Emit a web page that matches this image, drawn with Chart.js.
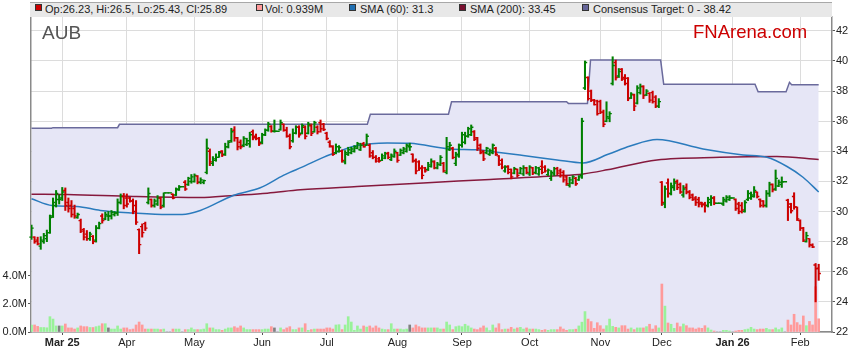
<!DOCTYPE html>
<html><head><meta charset="utf-8">
<script src="https://cdn.jsdelivr.net/npm/chart.js@4.4.1/dist/chart.umd.min.js"></script>
<style>
html,body{margin:0;padding:0;background:#fff;overflow:hidden}
#wrap{position:relative;width:859px;height:363px;font-family:"Liberation Sans",Arial,Helvetica,sans-serif}
#c{position:absolute;left:0;top:0}
#band{position:absolute;left:30px;top:2px;width:802px;height:15px;background:#e8e8e8;border-top:1px solid #a8a8a8;box-sizing:border-box}
.li{position:absolute;top:3px;font-size:11px;line-height:13px;color:#222;white-space:nowrap}
.bx{position:absolute;top:4px;width:5px;height:5px;border:1px solid #333}
#sym{position:absolute;left:42px;top:23px;font-size:19px;line-height:19px;color:#555}
#brand{position:absolute;left:693px;top:23px;font-size:18.5px;line-height:18px;color:#cc0000}
</style></head>
<body><div id="wrap"><canvas id="c" width="859" height="363"></canvas>
<div id="band"></div>
<div class="bx" style="left:35px;background:#cc0000"></div><div class="li" style="left:45px">Op:26.23, Hi:26.5, Lo:25.43, Cl:25.89</div>
<div class="bx" style="left:256px;background:#ff9999"></div><div class="li" style="left:265px">Vol: 0.939M</div>
<div class="bx" style="left:349px;background:#1f6fb2"></div><div class="li" style="left:360px">SMA (60): 31.3</div>
<div class="bx" style="left:459px;background:#7a1030"></div><div class="li" style="left:470px">SMA (200): 33.45</div>
<div class="bx" style="left:582px;background:#66669a"></div><div class="li" style="left:593px">Consensus Target: 0 - 38.42</div>
<div id="sym">AUB</div>
<div id="brand">FNArena.com</div>
</div>
<script>
// trading-day index 0 = 17 Feb 2025 (weekdays; holidays shown flat with zero volume)
const monthLabels = ['Mar 25','Apr','May','Jun','Jul','Aug','Sep','Oct','Nov','Dec','Jan 26','Feb'];
const monthIdx    = [10,31,53,75,96,119,140,162,185,205,228,250];
const priceTicks  = [22,24,26,28,30,32,34,36,38,40,42];
const volTicks    = [0,2,4];

const open = [
28.3,28.3,28.1,27.7,28.0,28.2,28.6,29.7,30.4,30.8,
30.9,31.4,30.6,30.4,30.2,29.6,29.4,28.8,28.5,28.2,
28.35,28.1,28.9,29.7,29.5,29.7,29.7,29.8,29.9,30.6,
31.0,30.9,30.9,30.7,30.4,28.8,29.0,29.2,30.6,30.8,
30.4,30.5,30.9,30.4,31.24,31.24,31.15,31.1,31.45,31.65,
31.95,31.8,32.0,32.0,32.35,31.95,31.95,32.6,34.0,33.2,
33.4,33.6,34.0,33.8,34.3,34.7,35.4,34.9,34.6,34.4,
34.45,34.5,35.3,35.0,34.85,34.6,35.1,35.4,35.65,35.33,
35.33,35.45,35.8,35.4,35.0,34.7,35.2,35.6,35.2,35.6,
35.2,35.7,35.3,35.6,35.9,35.8,35.2,34.6,34.3,33.9,
34.0,34.0,33.3,33.8,33.9,34.0,34.2,34.1,34.5,34.4,
34.4,33.9,33.6,33.5,33.4,33.55,33.85,33.45,33.65,33.9,
33.75,33.9,34.0,34.3,33.8,33.4,33.3,32.9,32.9,32.8,
33.0,33.3,32.9,33.1,33.2,32.6,34.1,34.2,33.2,33.7,
34.4,34.6,35.0,35.1,35.3,34.9,34.4,34.0,33.9,33.8,
33.9,34.2,33.7,33.4,32.7,33.0,32.8,32.55,32.8,32.55,
32.5,32.9,32.5,32.9,32.6,32.5,33.0,32.95,32.45,32.2,
32.5,32.85,32.7,32.6,32.3,31.75,31.9,32.2,32.1,32.4,
38.2,38.9,38.0,37.4,37.35,37.3,36.6,36.0,36.2,38.5,
39.9,39.0,39.45,38.9,38.85,37.55,37.75,37.2,37.9,38.3,
37.75,37.85,37.9,37.6,37.0,31.95,30.5,31.9,31.2,31.6,
32.0,31.8,31.1,31.6,31.3,31.1,30.9,30.8,30.6,30.5,
30.4,30.6,30.9,30.55,30.55,30.5,30.7,30.8,30.9,30.8,
30.5,30.4,30.0,30.8,30.9,31.0,31.3,30.8,30.7,30.4,
31.2,31.8,31.5,31.7,31.8,31.98,30.75,30.5,31.0,30.3,
29.4,28.9,28.0,28.2,27.75,26.45,26.23];
const high = [
29.1,28.33,28.3,28.33,28.55,28.77,29.77,30.9,31.4,31.1,
31.6,31.57,30.9,30.73,30.43,29.9,29.5,28.88,28.74,28.63,
28.41,29.07,29.3,29.85,29.96,30.0,30.07,30.0,30.84,31.17,
31.2,31.17,30.95,30.84,30.73,28.85,29.18,29.3,31.57,30.84,
30.84,31.06,30.95,31.24,31.24,31.24,31.17,31.57,31.73,31.65,
32.06,32.28,32.46,32.5,32.39,32.24,32.1,34.82,34.16,33.65,
33.83,34.0,34.05,34.54,34.71,35.53,35.64,34.93,34.76,34.98,
34.87,35.27,35.42,35.15,34.93,35.2,35.49,35.93,35.71,36.08,
35.33,36.08,35.82,35.6,35.15,35.49,35.7,35.7,35.82,35.7,
35.93,35.82,36.0,35.7,36.08,35.86,35.27,34.71,34.38,34.49,
34.38,34.09,34.05,34.27,34.27,34.38,34.6,34.54,34.6,35.15,
34.49,34.05,33.72,33.6,33.83,33.94,33.94,33.83,34.16,33.94,
34.16,34.27,34.49,34.54,33.83,33.5,33.38,33.05,32.94,33.27,
33.5,33.38,33.27,33.72,33.27,34.93,34.6,34.27,33.94,34.49,
35.27,35.27,35.6,35.75,35.38,34.93,34.49,34.05,34.27,34.16,
34.49,34.27,33.72,33.5,33.05,33.05,32.83,32.94,32.83,32.94,
33.05,32.94,33.05,32.94,33.0,32.94,33.38,33.05,32.83,32.72,
32.94,32.94,32.83,32.72,32.39,32.28,32.39,32.28,32.39,36.2,
40.0,38.95,38.07,37.45,37.4,37.4,36.74,37.29,36.63,40.28,
40.06,39.5,39.5,39.1,38.9,37.9,37.8,38.36,38.47,38.36,
38.1,37.9,38.0,37.7,37.5,32.0,31.7,32.17,31.9,32.17,
32.1,31.9,31.73,31.84,31.4,31.17,31.0,30.95,30.62,30.62,
30.95,31.06,31.0,30.55,30.55,30.95,31.06,31.06,30.9,30.84,
30.62,30.6,30.73,31.4,31.3,31.66,31.3,30.84,30.73,31.4,
31.95,31.84,32.76,32.1,32.3,31.98,30.82,30.55,31.25,30.3,
29.45,28.95,28.63,28.2,27.86,26.55,26.5];
const low = [
28.15,27.89,27.78,27.49,27.89,28.0,28.55,29.6,30.3,30.5,
30.73,30.07,29.96,29.63,29.55,29.55,28.6,28.11,28.08,28.08,
27.86,27.97,28.85,29.23,29.45,29.4,29.5,29.7,29.74,30.5,
30.18,30.29,30.62,29.85,29.14,27.2,28.3,28.74,30.5,30.29,
30.29,30.4,30.18,30.29,31.24,31.24,30.84,31.06,31.4,31.65,
31.4,31.73,31.88,31.95,31.84,31.84,31.84,32.5,33.05,33.05,
33.34,33.6,33.65,33.72,34.22,34.6,34.67,34.09,34.16,34.3,
34.38,34.27,34.76,34.76,34.38,34.49,35.04,35.33,35.27,35.27,
35.33,35.4,35.33,34.93,34.16,34.6,35.15,34.93,35.15,34.82,
35.15,35.04,35.27,35.15,35.27,35.37,34.76,34.27,33.72,33.83,
33.94,33.27,33.16,33.72,33.83,33.94,34.16,34.05,34.27,34.38,
33.6,33.5,33.27,33.27,33.38,33.5,33.5,33.38,33.6,33.27,
33.72,33.83,33.94,34.05,33.27,32.5,32.72,32.17,32.61,32.72,
32.94,32.83,32.83,33.05,32.61,32.5,34.05,33.5,33.05,33.6,
34.27,34.49,34.93,35.04,34.71,34.05,33.83,33.38,33.83,33.72,
33.83,33.72,33.05,32.83,32.61,32.5,32.17,32.5,32.28,32.5,
32.39,32.5,32.39,32.45,32.5,32.4,32.5,32.61,32.39,32.06,
32.39,32.45,32.28,31.95,31.73,31.62,31.84,31.73,32.06,32.2,
38.1,37.4,37.3,37.07,36.4,36.5,35.63,35.96,35.96,38.4,
38.73,38.9,38.7,38.4,37.36,37.5,36.7,37.14,37.8,37.5,
37.7,37.25,37.2,36.9,36.9,30.4,30.25,30.95,31.1,31.4,
31.45,31.2,30.95,31.17,30.84,30.73,30.4,30.3,30.3,29.96,
30.3,30.4,30.45,30.55,30.55,30.4,30.62,30.73,30.9,30.07,
29.85,29.9,29.96,30.73,30.8,30.95,30.9,30.29,30.29,30.29,
31.0,31.3,31.4,31.65,31.6,31.98,29.4,29.9,30.15,29.4,
28.74,28.0,27.97,27.64,27.6,24.0,25.43];
const close = [
28.9,28.0,27.85,28.1,28.4,28.6,29.6,30.6,31.2,30.8,
31.3,30.4,30.2,29.8,29.7,29.8,28.7,28.3,28.2,28.5,
28.0,28.9,29.2,29.4,29.8,29.7,29.95,29.9,30.6,31.0,
30.4,30.5,30.7,30.0,29.3,27.8,28.6,28.9,31.2,30.4,
30.7,30.9,30.3,31.24,31.24,31.24,30.9,31.5,31.65,31.65,
31.5,32.2,32.3,32.4,31.95,32.1,32.05,34.2,33.3,33.5,
33.6,33.9,33.75,34.3,34.6,35.3,34.9,34.3,34.3,34.85,
34.7,35.1,34.9,34.85,34.5,35.1,35.4,35.8,35.35,35.33,
35.33,35.9,35.4,35.0,34.3,35.2,35.6,35.1,35.7,35.0,
35.8,35.2,35.9,35.3,35.5,35.45,34.85,34.35,33.8,34.3,
34.25,33.4,33.9,34.1,34.15,34.3,34.5,34.4,34.3,35.0,
33.7,33.6,33.35,33.35,33.7,33.85,33.6,33.75,34.0,33.4,
34.05,34.15,34.4,34.3,33.35,32.7,32.85,32.4,32.7,33.1,
33.35,32.9,33.15,33.6,32.7,34.3,34.4,33.6,33.8,34.4,
35.1,35.0,35.5,35.6,34.8,34.2,33.9,33.5,34.2,34.05,
34.4,33.8,33.15,32.95,32.95,32.6,32.3,32.85,32.4,32.85,
32.9,32.6,32.95,32.55,32.9,32.8,32.6,32.7,32.75,32.6,
32.85,32.55,32.4,32.1,31.85,32.1,32.3,31.85,32.3,36.0,
39.9,37.5,37.4,37.1,36.5,36.6,35.8,36.3,36.5,39.7,
38.9,39.3,38.8,38.5,37.5,37.8,37.0,38.2,38.3,37.7,
38.0,37.4,37.3,37.0,37.3,30.6,31.5,31.2,31.7,31.9,
31.6,31.3,31.5,31.3,30.95,30.8,30.6,30.5,30.45,30.4,
30.8,30.9,30.55,30.55,30.55,30.8,30.95,30.9,30.9,30.2,
30.0,30.1,30.6,31.2,31.1,31.4,31.0,30.4,30.4,31.2,
31.8,31.45,32.2,31.95,31.98,31.98,30.3,30.05,30.3,29.5,
28.9,28.1,28.4,27.8,27.65,26.2,25.89];
const volumeM = [
0.5,0.5,0.4,0.32,0.32,0.3,1.09,0.92,0.43,0.43,
0.43,0.57,0.29,0.29,0.21,0.29,0.43,0.38,0.38,0.32,
0.32,0.38,0.43,0.59,0.59,0.29,0.21,0.21,0.43,0.21,
0.29,0.29,0.17,0.21,0.5,0.71,0.5,0.21,0.21,0.21,
0.21,0.21,0.17,0.21,0,0,0.21,0.21,0.21,0,
0.17,0.17,0.29,0.17,0.17,0.17,0.21,0.59,0.29,0.29,
0.17,0.17,0.12,0.21,0.29,0.29,0.38,0.29,0.43,0.29,
0.17,0.17,0.17,0.17,0.17,0.17,0.21,0.21,0.38,0.29,
0,0.29,0.17,0.29,0.38,0.17,0.17,0.29,0.29,0.59,
0.12,0.17,0.21,0.21,0.21,0.21,0.29,0.29,0.21,0.5,
0.52,0.17,0.5,1.09,0.71,0.12,0.43,0.21,0.43,0.35,
0.43,0.29,0.43,0.29,0.21,0.17,0.17,0.59,0.21,0.21,
0.21,0.17,0.21,0.5,0.29,0.5,0.38,0.29,0.29,0.29,
0.29,0.29,0.29,0.21,0.21,0.71,0.5,0.17,0.38,0.43,
0.38,0.55,0.43,0.29,0.21,0.17,0.29,0.43,0.29,0.1,
0.5,0.29,0.59,0.17,0.21,0.21,0.33,0.21,0.29,0.33,
0.21,0.29,0.21,0.21,0.21,0.17,0.12,0.17,0.12,0.17,
0.17,0.17,0.36,0.21,0.12,0.17,0.17,0.2,0.43,0.7,
1.45,0.92,0.74,0.26,0.66,0.45,0.21,0.45,0.92,0.4,
0.33,0.29,0.45,0.45,0.21,0.29,0.17,0.29,0.29,0.29,
0.38,0.55,0.21,0.45,0.29,3.41,1.84,0.64,0.55,0.26,
0.64,0.38,0.57,0.45,0.29,0.29,0.21,0.29,0.26,0.45,
0.29,0.14,0.07,0,0,0.12,0.12,0.07,0,0.07,
0.12,0.12,0.17,0.21,0.33,0.21,0.17,0.21,0.21,0.26,
0.17,0.17,0.29,0.17,0.29,0,0.85,0.5,1.26,0.67,
0.5,1.14,0.45,0.75,0.5,3.22,0.939];

const sma60Idx = [0,6.7,14.8,22.4,33.1,44.2,49,54.9,65.6,74.4,81.9,84,88,94.9,98.1,105.9,115.7,123.1,136.2,144.9,151.4,159.9,170.9,179.4,187.5,194.7,203.4,218.4,231.4,239.2,245.7,250.9,256];
const sma60Val = [30.85,30.4,30.34,30.07,29.9,29.8,29.8,30.07,31.07,31.58,32.4,32.6,32.95,33.6,33.85,34.38,34.56,34.53,34.16,34.1,33.94,33.72,33.43,33.23,33.8,34.35,34.78,34.16,33.76,33.6,32.99,32.28,31.3];
const sma200Idx = [0,11.7,33,54.9,65.6,76.7,87.4,105.9,127.4,149.1,170.9,179.4,187.2,203.4,223.9,242.4,256];
const sma200Val = [31.15,31.13,31.0,30.93,31.07,31.22,31.44,31.66,31.9,32.13,32.37,32.5,32.77,33.43,33.6,33.65,33.45];
const targetIdx = [0,6.5,7,28,28.6,109.2,110.2,135.6,136.6,174,174.6,180.8,181.8,204.6,205.6,235.3,236.3,245.4,246.5,247.2,256];
const targetVal = [35.53,35.53,35.57,35.57,35.79,35.79,36.46,36.46,37.29,37.29,37.18,37.18,40.06,40.06,38.45,38.45,37.96,37.96,38.58,38.42,38.42];

const UP = '#008000', DOWN = '#cc0000';
const VUP = '#99f299', VDOWN = '#ff9a9a', VFLAT = '#808080';
const FONT = '"Liberation Sans", Arial, sans-serif';

const n = close.length;
const barColor = close.map((c,i)=> c >= open[i] ? UP : DOWN);
const volColor = close.map((c,i)=> c > open[i] ? VUP : (c < open[i] ? VDOWN : VFLAT));
const rangeData = close.map((c,i)=>({x:i, y:[low[i], high[i]]}));
const volData = volumeM.map((v,i)=>({x:i, y:v}));
const pts = (xs, ys) => xs.map((x,i)=>({x, y:ys[i]}));

const ohlcTicks = {
  id:'ohlcTicks',
  afterDatasetsDraw(chart){
    const xs = chart.scales.x, ys = chart.scales.y, ctx = chart.ctx;
    ctx.save();
    ctx.lineWidth = 1.4;
    for(let i=0;i<n;i++){
      const x = xs.getPixelForValue(i);
      const yo = ys.getPixelForValue(open[i]);
      const yc = ys.getPixelForValue(close[i]);
      ctx.strokeStyle = barColor[i];
      ctx.beginPath();
      ctx.moveTo(x-2.2, yo); ctx.lineTo(x, yo);
      ctx.moveTo(x, yc); ctx.lineTo(x+2.2, yc);
      ctx.stroke();
    }
    ctx.restore();
  }
};

new Chart(document.getElementById('c'), {
  type:'bar',
  data:{ datasets:[
    { type:'bar', label:'OHLC', data:rangeData, yAxisID:'y', backgroundColor:barColor, borderWidth:0, barThickness:1.4, grouped:false, order:1 },
    { type:'line', label:'SMA (60)', data:pts(sma60Idx,sma60Val), yAxisID:'y', borderColor:'#2b7bbd', borderWidth:1.5, pointRadius:0, cubicInterpolationMode:'monotone', fill:false, order:2 },
    { type:'line', label:'SMA (200)', data:pts(sma200Idx,sma200Val), yAxisID:'y', borderColor:'#86193d', borderWidth:1.5, pointRadius:0, cubicInterpolationMode:'monotone', fill:false, order:3 },
    { type:'bar', label:'Vol', data:volData, yAxisID:'yv', backgroundColor:volColor, borderWidth:0, barThickness:2, grouped:false, order:4 },
    { type:'line', label:'Consensus Target', data:pts(targetIdx,targetVal), yAxisID:'y', borderColor:'#6a6a9c', borderWidth:1.5, pointRadius:0, tension:0, fill:'start', backgroundColor:'#e6e6f6', order:5 }
  ]},
  options:{
    responsive:false, animation:false, devicePixelRatio:1,
    layout:{padding:{top:17,left:0,right:0,bottom:0}},
    plugins:{legend:{display:false}, tooltip:{enabled:false}},
    scales:{
      x:{ type:'linear', min:-0.163, max:260.33, offset:false,
          afterBuildTicks:s=>{ s.ticks = monthIdx.map(v=>({value:v})); },
          afterFit:s=>{ s.height = 31; },
          ticks:{ autoSkip:false, maxRotation:0, minRotation:0, padding:1, color:'#222',
                  callback:(v,i)=>monthLabels[i],
                  font:(c)=>({family:FONT, size:11, weight:(c.index===0||c.index===10)?'bold':'normal'}) },
          grid:{ color:'#dcdcdc', lineWidth:1, tickColor:'#555', tickLength:3, offset:false },
          border:{ color:'#8a8a8a', width:1.5 } },
      y:{ position:'right', min:22, max:42.92,
          afterBuildTicks:s=>{ s.ticks = priceTicks.map(v=>({value:v})); },
          afterFit:s=>{ s.width = 27; },
          ticks:{ padding:1, color:'#222', font:{family:FONT, size:11}, callback:v=>String(v) },
          grid:{ color:'#dcdcdc', lineWidth:1, tickColor:'#555', tickLength:3 },
          border:{ color:'#8a8a8a', width:1.5 } },
      yv:{ position:'left', min:0, max:22.39,
          afterBuildTicks:s=>{ s.ticks = volTicks.map(v=>({value:v})); },
          afterFit:s=>{ s.width = 31; },
          ticks:{ padding:1, color:'#222', font:{family:FONT, size:11}, callback:v=>v.toFixed(1)+'M' },
          grid:{ drawOnChartArea:false, tickColor:'#555', tickLength:3 },
          border:{ color:'#8a8a8a', width:1.5 } }
    }
  },
  plugins:[ohlcTicks]
});
</script>
</body></html>
